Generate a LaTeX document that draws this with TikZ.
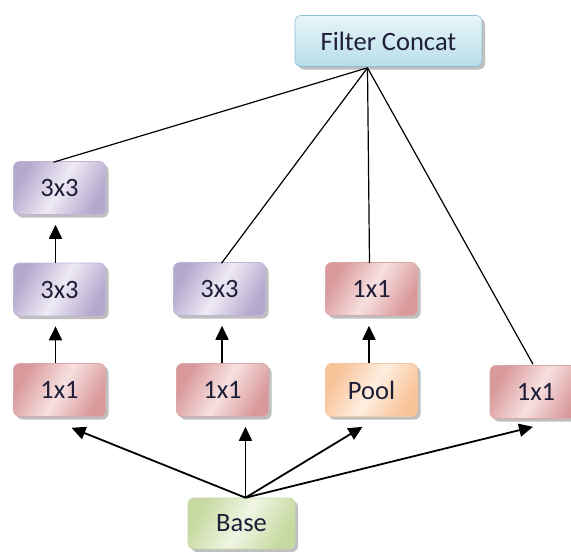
\documentclass[tikz,border=0pt]{standalone}
\usepackage{fontspec}
\setmainfont{Carlito}
\usetikzlibrary{shadows,arrows.meta,calc}
\definecolor{redL}{HTML}{F7E0E0}
\definecolor{redD}{HTML}{D9989A}
\definecolor{redB}{HTML}{D8A8A8}
\definecolor{purL}{HTML}{EEEAF4}
\definecolor{purD}{HTML}{B5A8CE}
\definecolor{purB}{HTML}{C0B4D6}
\definecolor{orL}{HTML}{FEEEE0}
\definecolor{orD}{HTML}{F9C398}
\definecolor{orB}{HTML}{F2C8A4}
\definecolor{grL}{HTML}{F0F5E4}
\definecolor{grD}{HTML}{C6D9A0}
\definecolor{grB}{HTML}{C8D8A8}
\definecolor{blL}{HTML}{E8F5F9}
\definecolor{blD}{HTML}{B8DEE9}
\definecolor{blB}{HTML}{8CC0D0}
\definecolor{txt}{HTML}{1E1E38}
\tikzset{
  box/.style={rounded corners=6pt, minimum width=92pt, minimum height=53pt,
    line width=0.6pt, text=txt, font=\fontsize{26.5}{30}\selectfont,
    drop shadow={shadow xshift=3pt, shadow yshift=-3pt, opacity=0.25, fill=black}},
  redbox/.style={box, draw=redB, left color=redD, right color=redD, middle color=redL, shading angle=60},
  purbox/.style={box, draw=purB, left color=purD, right color=purD, middle color=purL, shading angle=60},
  orbox/.style={box, draw=orB, left color=orD, right color=orD, middle color=orL, shading angle=60},
  grbox/.style={box, draw=grB, left color=grD, right color=grD, middle color=grL, shading angle=60, minimum width=107pt, minimum height=51pt},
  blbox/.style={box, draw=blB, top color=blL, bottom color=blD, minimum width=187pt, minimum height=51pt},
  arr/.style={-{Triangle[width=13pt,length=14pt]}, line width=1.8pt, black},
  ln/.style={line width=1.2pt, black}
}
\begin{document}
\begin{tikzpicture}[x=1pt,y=-1pt]
\useasboundingbox (0,0) rectangle (571,552);
\node[blbox] (concat) at (388.5,41) {Filter Concat};
\node[purbox] (L3) at (59.5,188) {3x3};
\node[purbox] (L2) at (59.5,289.5) {3x3};
\node[redbox] (L1) at (59.5,390) {1x1};
\node[purbox] (C2a) at (219.5,289) {3x3};
\node[redbox] (C2b) at (222.5,390) {1x1};
\node[redbox] (C3a) at (371.5,289) {1x1};
\node[orbox] (pool) at (371.5,390) {Pool};
\node[redbox] (R) at (536,392) {1x1};
\node[grbox] (base) at (241.5,523.5) {Base};

\coordinate (cp) at ($(concat.south)+(-21,1)$);
\coordinate (bp) at ($(base.north)+(4,0)$);
% lines to concat
\coordinate (L3t) at ($(L3.north)+(-6,1)$);
\coordinate (C2at) at ($(C2a.north)+(2,1)$);
\coordinate (C3at) at ($(C3a.north)+(-2,1)$);
\coordinate (Rt) at ($(R.north)+(-3,-1)$);
\draw[ln] (L3t) -- (cp);
\draw[ln] (C2at) -- (cp);
\draw[ln] (C3at) -- (cp);
\draw[ln] (Rt) -- (cp);
% vertical arrows
\coordinate (L3in) at ($(L3.south)+(-4,10)$);
\coordinate (L2in) at ($(L2.south)+(-4,10)$);
\coordinate (C2ain) at ($(C2a.south)+(2.5,10)$);
\coordinate (C3ain) at ($(C3a.south)+(-2.5,10)$);
\draw[arr] (L2.north -| L3in) -- (L3in);
\draw[arr] (L1.north -| L2in) -- (L2in);
\draw[arr] (C2b.north -| C2ain) -- (C2ain);
\draw[arr] (pool.north -| C3ain) -- (C3ain);
% arrows from base
\coordinate (L1in) at ($(L1.south)+(12,11)$);
\coordinate (C2bin) at ($(C2b.south)+(23,10)$);
\coordinate (poolin) at ($(pool.south)+(-9,10)$);
\coordinate (Rin) at ($(R.south)+(-3,8)$);
\draw[arr] (bp) -- (L1in);
\draw[arr] (bp) -- (C2bin);
\draw[arr] (bp) -- (poolin);
\draw[arr] (bp) -- (Rin);
\end{tikzpicture}
\end{document}
